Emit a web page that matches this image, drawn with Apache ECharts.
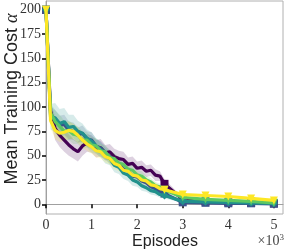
<!DOCTYPE html>
<html>
<head>
<meta charset="utf-8">
<script src="https://cdn.jsdelivr.net/npm/echarts@6/dist/echarts.min.js"></script>
<style>html,body{margin:0;padding:0;background:#fff}#c{width:284px;height:252px}</style>
</head>
<body>
<div id="c"></div>
<script>
var episodes = [0,100,200,300,400,500,600,700,800,900,1000,1100,1200,1300,1400,1500,1600,1700,1800,1900,2000,2100,2200,2300,2400,2500,2600,3000,3500,4000,4500,5000];
var xTicks = [0,1000,2000,3000,4000,5000];
var yTicks = [0,25,50,75,100,125,150,175,200];
var markerIdx = [0,26,27,28,29,30,31];

var purple = [200,96,78,71,66,61,57,54,60,63,62,57,58,53,54,49,47,46,41,42,37,38,34,35,30,29,21,5,3,2,1.5,1];
var blue   = [200,92,87,81,82,76,75,71,73,67,66,60,58,53,49,44,42,36,35,29,28,24,22,18,16,13,11,2,1.5,1,1,0.5];
var teal   = [200,90,89,83,85,79,80,75,73,68,65,60,56,50,47,40,38,32,30,25,23,19,17,14,13,10,9,3,2.5,2,1.5,1];
var green  = [200,94,85,80,75,76,72,71,66,66,61,60,55,54,48,47,42,41,36,35,30,29,25,23,19,18,15,7,5,4,3,1.5];
var yellow = [200,86,76,73,74,76,75,71,66,62,59,55,54,49,47,42,40,35,34,30,29,25,24,20,19,16,15,10,9,8,6,4];

var purpleStd = [2,10,12,12,12,11,10,10,10,9,9,9,9,8,8,8,8,8,7,7,7,7,6,6,6,5,5,2,1.5,1,1,1];
var blueStd   = [2,9,10,10,10,9,9,8,8,8,8,7,7,7,7,6,6,6,6,5,5,5,4,4,4,3,3,1.5,1,1,1,1];
var tealStd   = [2,13,15,15,14,13,12,11,10,9,9,8,8,8,7,7,7,6,6,6,5,5,4,4,4,3,3,1.5,1,1,1,1];
var greenStd  = [2,10,12,12,11,10,10,9,9,8,8,8,7,7,7,6,6,6,6,5,5,5,4,4,4,3,3,1.5,1,1,1,1];
var yellowStd = [2,8,9,9,9,9,8,8,8,7,7,7,7,6,6,6,6,5,5,5,5,4,4,4,4,3,3,1.5,1,1,1,1];

var names  = ['purple','blue','teal','green','yellow'];
var colors = ['#440154','#3b528b','#21918c','#5ec962','#fde725'];
var means  = [purple, blue, teal, green, yellow];
var stds   = [purpleStd, blueStd, tealStd, greenStd, yellowStd];
var symbols = ['rect','rect','diamond','triangle','triangle'];
var symRot  = [0,0,0,180,180];

var series = [];
means.forEach(function(m, k){
  var s = stds[k];
  series.push({
    type:'custom', name: names[k]+'_band', silent:true, z:1,
    data:[[0]],
    renderItem:function(params, api){
      var pts = [];
      for (var i=0;i<episodes.length;i++) pts.push(api.coord([episodes[i], m[i]+s[i]]));
      for (var j=episodes.length-1;j>=0;j--) pts.push(api.coord([episodes[j], m[j]-s[j]]));
      return {type:'polygon', shape:{points:pts}, style:{fill:colors[k], opacity:0.18}};
    },
    clip:true
  });
});
means.forEach(function(m, k){
  series.push({
    type:'line', name:names[k], z:2+k,
    symbol:symbols[k], symbolSize:8, symbolRotate:symRot[k], showSymbol:true,
    lineStyle:{color:colors[k], width:3.2},
    itemStyle:{color:colors[k]},
    data: episodes.map(function(e,i){
      var d = {value:[e, m[i]]};
      if (markerIdx.indexOf(i) < 0) d.symbol = 'none';
      return d;
    }),
    animation:false
  });
});

var chart = echarts.init(document.getElementById('c'));
chart.setOption({
  animation:false,
  grid:{left:46, right:1, top:1, bottom:38, show:true, borderColor:'#b0b0b0', borderWidth:1},
  xAxis:{
    type:'value', min:0, max:5200,
    axisLine:{show:true, lineStyle:{color:'#a0a0a0', width:1}},
    axisTick:{show:true, inside:false, length:4, lineStyle:{color:'#000', width:1.5}, customValues:xTicks},
    axisLabel:{customValues:xTicks, margin:4, fontFamily:'Liberation Serif', fontSize:14, color:'#333',
      formatter:function(v){return String(v/1000);}},
    splitLine:{show:false}
  },
  yAxis:{
    type:'value', min:-10, max:209,
    axisLine:{show:true, lineStyle:{color:'#a0a0a0', width:1}},
    axisTick:{show:true, inside:false, length:4, lineStyle:{color:'#000', width:1.5}, customValues:yTicks},
    axisLabel:{customValues:yTicks, margin:5, fontFamily:'Liberation Serif', fontSize:14, color:'#333'},
    splitLine:{show:false}
  },
  graphic:[
    {type:'text', x:12, y:99, rotation:Math.PI/2,
     style:{text:'Mean Training Cost {i|α}', fontFamily:'Liberation Sans', fontSize:18, fill:'#222',
       align:'center', verticalAlign:'middle',
       rich:{i:{fontFamily:'Liberation Serif', fontStyle:'italic', fontSize:18, fill:'#222'}}}},
    {type:'text', x:165, y:242,
     style:{text:'Episodes', fontFamily:'Liberation Sans', fontSize:16, fill:'#222', align:'center', verticalAlign:'middle'}},
    {type:'text', x:284, y:241,
     style:{text:'×10{s|3}', fontFamily:'Liberation Serif', fontSize:14, fill:'#444', align:'right', verticalAlign:'middle',
       rich:{s:{fontSize:9, verticalAlign:'top', padding:[0,0,6,0], fill:'#444', fontFamily:'Liberation Serif'}}}}
  ],
  series:series
});
</script>
</body>
</html>
